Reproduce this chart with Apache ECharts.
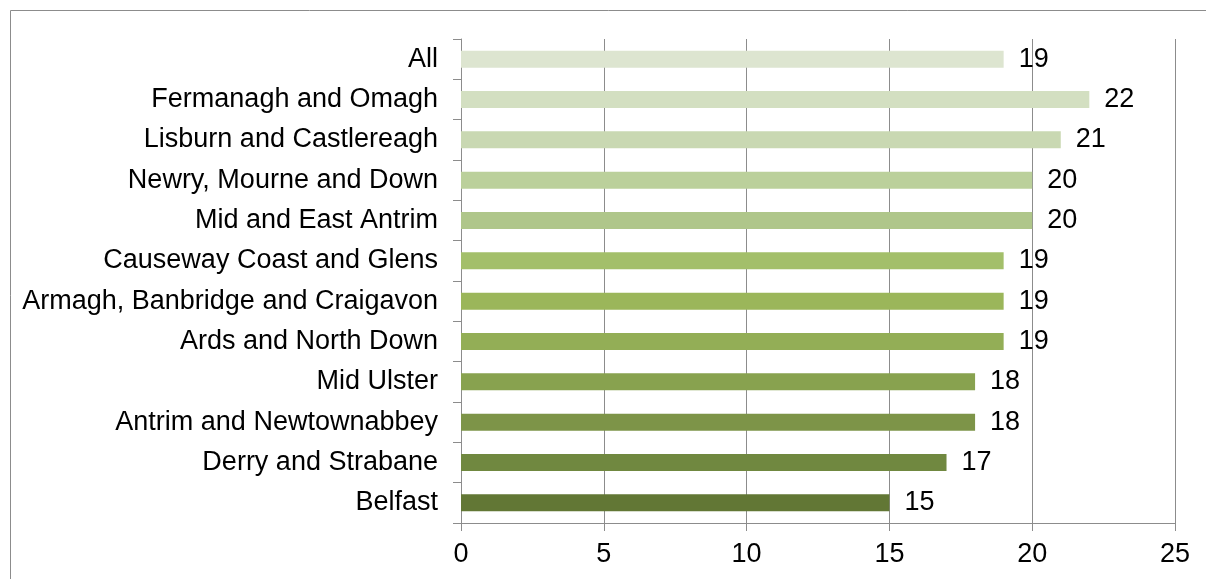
<!DOCTYPE html>
<html>
<head>
<meta charset="utf-8">
<script src="https://cdn.jsdelivr.net/npm/echarts@6/dist/echarts.min.js"></script>
<style>
html,body{margin:0;padding:0;background:#fff;}
#c{width:1206px;height:579px;}
</style>
</head>
<body>
<div id="c"></div>
<script>
const categories = [
  "All",
  "Fermanagh and Omagh",
  "Lisburn and Castlereagh",
  "Newry, Mourne and Down",
  "Mid and East Antrim",
  "Causeway Coast and Glens",
  "Armagh, Banbridge and Craigavon",
  "Ards and North Down",
  "Mid Ulster",
  "Antrim and Newtownabbey",
  "Derry and Strabane",
  "Belfast"
];
const values = [19, 22, 21, 20, 20, 19, 19, 19, 18, 18, 17, 15];
const barColors = [
  "#DDE5D0", "#D3DFC1", "#C9D8B2", "#BBD09B", "#AFC68A", "#A3BF6A",
  "#9BB65A", "#93AE56", "#88A24F", "#7D9448", "#708840", "#627735"
];
const xTicks = [0, 5, 10, 15, 20, 25];

const chart = echarts.init(document.getElementById('c'), null, {renderer: 'canvas'});
const font = 'Liberation Sans, Arial, sans-serif';
const fs = 27;
chart.setOption({
  animation: false,
  backgroundColor: '#ffffff',
  graphic: [{
    type: 'rect',
    shape: {x: 10.5, y: 10.5, width: 1400, height: 800},
    style: {fill: 'none', stroke: '#8c8c8c', lineWidth: 1},
    silent: true
  }],
  grid: {left: 461, right: 31, top: 39, bottom: 56, containLabel: false},
  xAxis: {
    type: 'value',
    min: xTicks[0],
    max: xTicks[xTicks.length - 1],
    interval: 5,
    axisLine: {show: true, lineStyle: {color: '#8c8c8c', width: 1}},
    axisTick: {show: true, length: 8, lineStyle: {color: '#8c8c8c'}},
    axisLabel: {color: '#000', fontSize: fs, fontFamily: font, margin: 18},
    splitLine: {show: true, lineStyle: {color: '#8c8c8c', width: 1}}
  },
  yAxis: {
    type: 'category',
    data: categories.slice().reverse(),
    axisLine: {show: true, lineStyle: {color: '#8c8c8c', width: 1}},
    axisTick: {show: true, length: 8, alignWithLabel: false, lineStyle: {color: '#8c8c8c'}},
    axisLabel: {color: '#000', fontSize: fs, fontFamily: font, margin: 23}
  },
  series: [{
    type: 'bar',
    data: values.slice().reverse().map((v, i) => ({
      value: v,
      itemStyle: {color: barColors[barColors.length - 1 - i]}
    })),
    barWidth: 17,
    label: {
      show: true,
      position: 'right',
      distance: 15,
      color: '#000',
      fontSize: fs,
      fontFamily: font
    }
  }]
});
</script>
</body>
</html>
